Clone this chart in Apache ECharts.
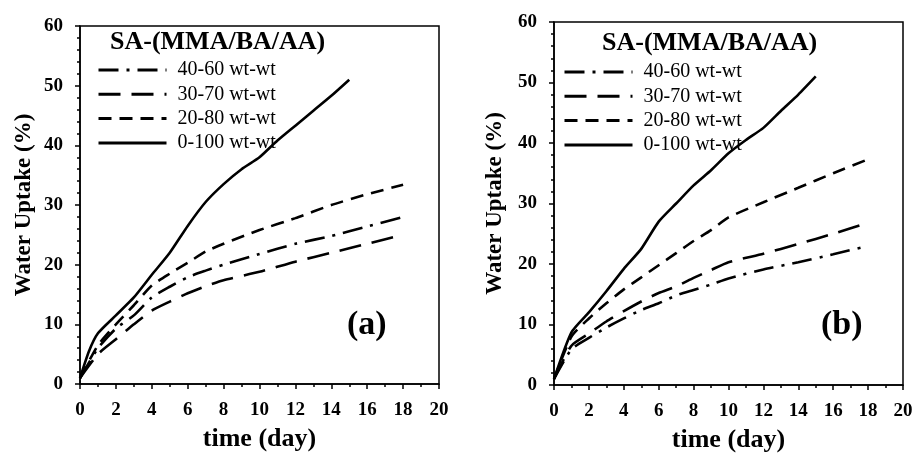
<!DOCTYPE html>
<html>
<head>
<meta charset="utf-8">
<script src="https://cdn.jsdelivr.net/npm/echarts@6/dist/echarts.min.js"></script>
<style>html,body{margin:0;padding:0;background:#fff;}#c{width:917px;height:458px;}</style>
</head>
<body>
<div id="c"></div>
<script>
// ---- data (a) ----
const xA_solid = [0,0.5,1,2,3,4,5,6,7,8,9,10,11,12,13,14,15];
const yA_0100  = [1,5.5,8.5,11.5,14.5,18.3,22,26.5,30.5,33.5,36,38,40.8,43.3,45.8,48.3,51];
const xA       = [0,1,2,3,4,5,6,7,8,10,12,14,16,18];
const yA_2080  = [1,6.5,10,13.2,16.5,18.5,20.3,22.2,23.5,25.8,27.8,30,31.8,33.4];
const yA_4060  = [1,6,9.3,11.5,14.5,16.3,17.9,19,20,21.8,23.5,24.8,26.4,28];
const yA_3070  = [1,5,7.5,10,12.3,13.8,15.2,16.4,17.4,18.8,20.5,22,23.5,25];
// ---- data (b) ----
const xB_solid = [0,1,2,3,4,5,6,7,8,9,10,11,12,13,14,15];
const yB_0100  = [1,8.7,12,15.5,19.2,22.5,27,30,33,35.5,38.3,40.5,42.5,45.3,48,51];
const xB       = [0,1,2,3,4,5,6,7,8,9,10,12,14,16,18];
const yB_2080  = [1,8,11,13.5,15.8,17.8,19.8,21.8,23.8,25.6,27.7,30.2,32.6,35,37.3];
const yB_3070  = [1,6.5,8.5,10.5,12.2,13.8,15.2,16.3,17.7,19,20.3,21.7,23.3,25,26.8];
const yB_4060  = [1,5.9,7.8,9.5,11,12.4,13.5,14.8,15.7,16.6,17.6,19.1,20.3,21.6,23];

const names = ['40-60 wt-wt','30-70 wt-wt','20-80 wt-wt','0-100 wt-wt'];
const legendTitle = 'SA-(MMA/BA/AA)';
const yName = 'Water Uptake (%)';
const xName = 'time (day)';
const panelLabels = ['(a)','(b)'];

const FONT = 'Liberation Serif, Times New Roman, serif';
const dashes = {
  '40-60 wt-wt': [20, 8, 3, 8],
  '30-70 wt-wt': [22, 11],
  '20-80 wt-wt': [13, 8],
  '0-100 wt-wt': 'solid'
};
function zip(xs, ys){ return xs.map((x,i)=>[x, ys[i]]); }

const chart = echarts.init(document.getElementById('c'), null, {renderer:'canvas'});

function xAxisCfg(gi){
  return {
    type:'value', gridIndex:gi, min:0, max:20, interval:2,
    name:xName, nameLocation:'middle', nameGap:42,
    nameTextStyle:{fontFamily:FONT, fontWeight:'bold', fontSize:26, color:'#000'},
    axisLine:{show:true, onZero:false, lineStyle:{color:'#000', width:1.5}},
    axisTick:{show:true, inside:false, length:5, lineStyle:{color:'#000', width:1.5}},
    minorTick:{show:true, splitNumber:2, length:3, lineStyle:{color:'#000', width:1.5}},
    splitLine:{show:false},
    axisLabel:{fontFamily:FONT, fontWeight:'bold', fontSize:19, color:'#000', margin:17}
  };
}
function yAxisCfg(gi, gap){
  return {
    type:'value', gridIndex:gi, min:0, max:60, interval:10,
    name:yName, nameLocation:'middle', nameGap:gap,
    nameTextStyle:{fontFamily:FONT, fontWeight:'bold', fontSize:23, color:'#000'},
    axisLine:{show:true, onZero:false, lineStyle:{color:'#000', width:1.5}},
    axisTick:{show:true, inside:false, length:5, lineStyle:{color:'#000', width:1.5}},
    minorTick:{show:true, splitNumber:5, length:3, lineStyle:{color:'#000', width:1.5}},
    splitLine:{show:false},
    axisLabel:{fontFamily:FONT, fontWeight:'bold', fontSize:19, color:'#000', margin:17}
  };
}
function mk(name, gi, data){
  return {
    name, type:'line', xAxisIndex:gi, yAxisIndex:gi, data,
    symbol:'none', showSymbol:false, smooth:0.2,
    lineStyle:{color:'#000', width:2.6, type:dashes[name], cap:'butt'},
    itemStyle:{color:'#000'}
  };
}
function legendCfg(left, top){
  return {
    data:names, orient:'vertical', left, top, padding:0,
    itemWidth:68, itemHeight:14, itemGap:4.3,
    itemStyle:{opacity:0},
    lineStyle:{width:3, color:'#000'},
    textStyle:{fontFamily:FONT, fontSize:20, lineHeight:20, color:'#000', padding:[0,0,0,6]},
    selectedMode:false
  };
}

chart.setOption({
  backgroundColor:'#fff',
  animation:false,
  title:[
    {text:legendTitle, left:110, top:29, textStyle:{fontFamily:FONT, fontWeight:'bold', fontSize:26, color:'#000'}, padding:0},
    {text:legendTitle, left:602, top:30, textStyle:{fontFamily:FONT, fontWeight:'bold', fontSize:26, color:'#000'}, padding:0},
    {text:panelLabels[0], left:347, top:308, textStyle:{fontFamily:FONT, fontWeight:'bold', fontSize:34, color:'#000'}, padding:0},
    {text:panelLabels[1], left:821, top:308, textStyle:{fontFamily:FONT, fontWeight:'bold', fontSize:34, color:'#000'}, padding:0}
  ],
  legend:[legendCfg(97, 60), legendCfg(563, 62)],
  grid:[
    {left:80, top:26, width:359, height:358, show:true, borderColor:'#000', borderWidth:1.5, backgroundColor:'transparent'},
    {left:554, top:22, width:349, height:364, show:true, borderColor:'#000', borderWidth:1.5, backgroundColor:'transparent'}
  ],
  xAxis:[xAxisCfg(0), xAxisCfg(1)],
  yAxis:[yAxisCfg(0, 44), yAxisCfg(1, 47)],
  series:[
    mk(names[0], 0, zip(xA, yA_4060)),
    mk(names[1], 0, zip(xA, yA_3070)),
    mk(names[2], 0, zip(xA, yA_2080)),
    mk(names[3], 0, zip(xA_solid, yA_0100)),
    mk(names[0], 1, zip(xB, yB_4060)),
    mk(names[1], 1, zip(xB, yB_3070)),
    mk(names[2], 1, zip(xB, yB_2080)),
    mk(names[3], 1, zip(xB_solid, yB_0100))
  ]
});
</script>
</body>
</html>
